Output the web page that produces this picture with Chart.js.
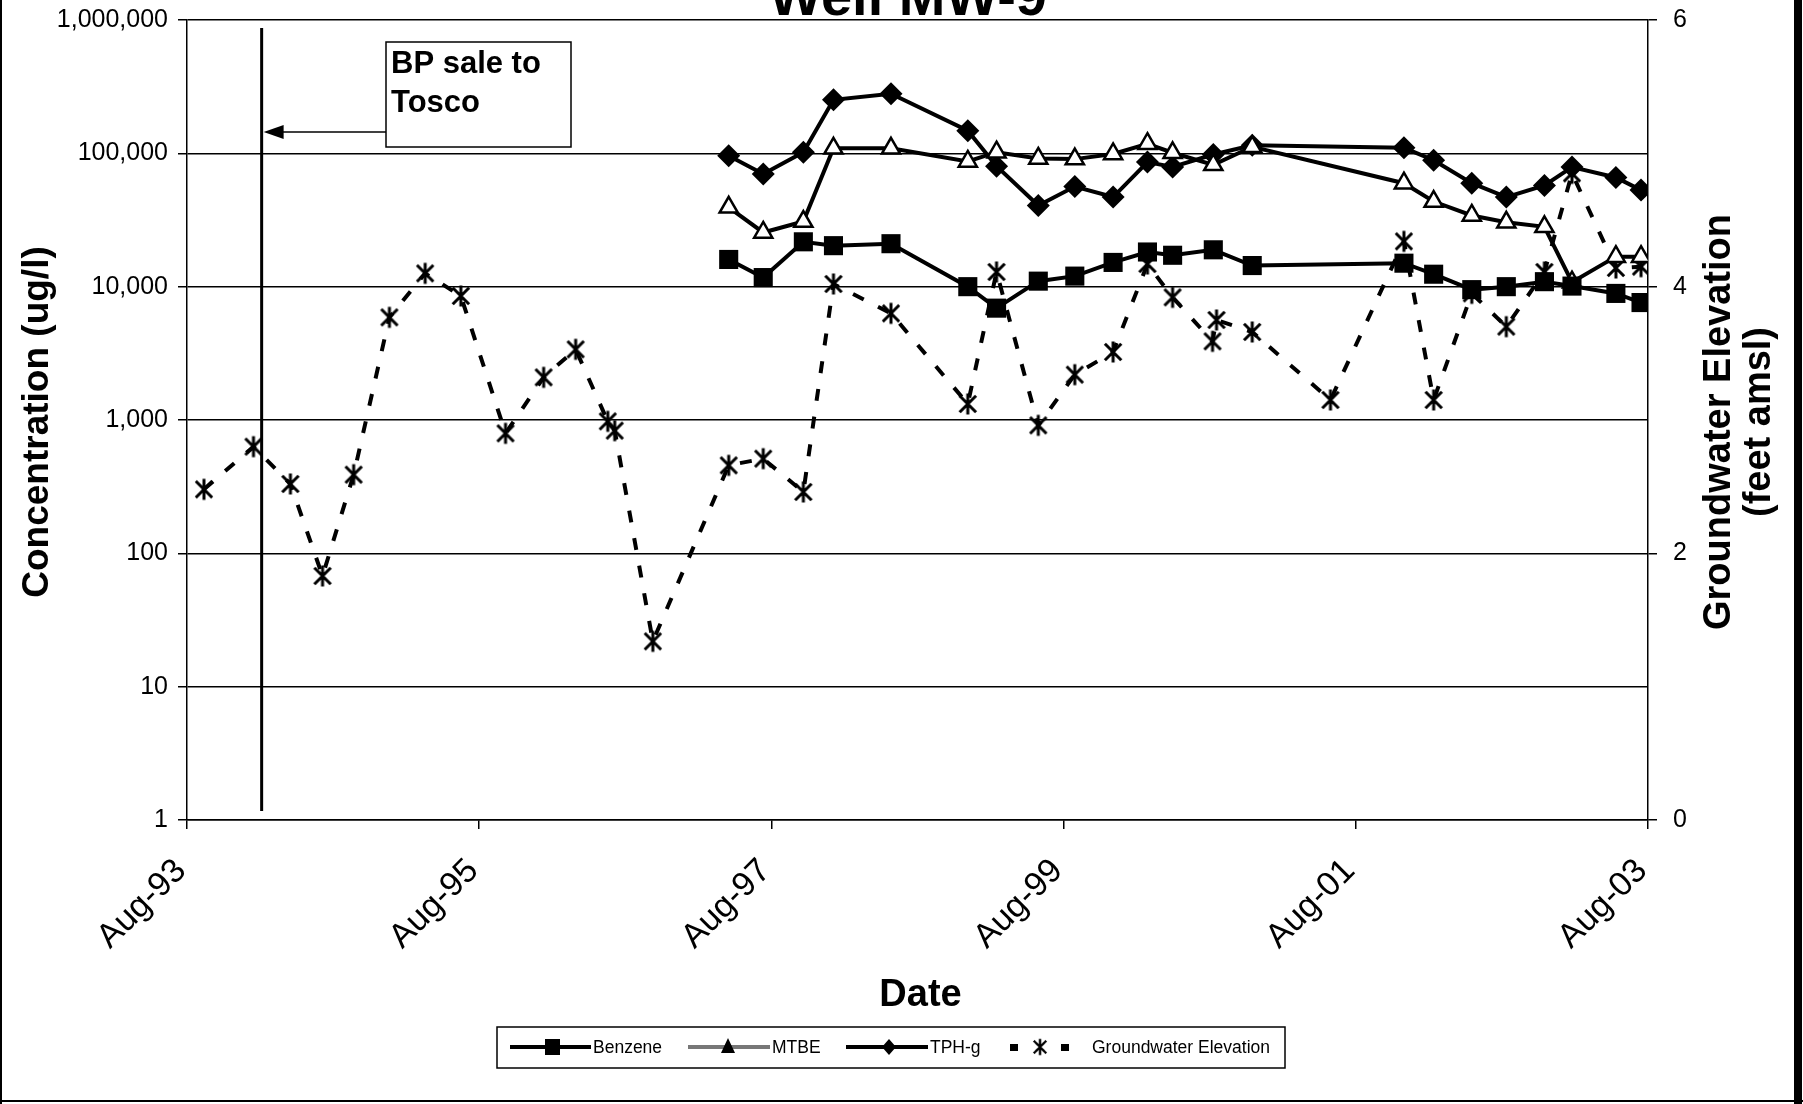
<!DOCTYPE html>
<html><head><meta charset="utf-8">
<script src="https://cdn.jsdelivr.net/npm/chart.js@4.4.1/dist/chart.umd.min.js"></script>
<style>html,body{margin:0;padding:0;background:#fff;} canvas{display:block;}</style>
</head><body>
<canvas id="c" width="1803" height="1104"></canvas>
<script>
// ---------------- data ----------------
const concDates = ['1997-04-16','1997-07-11','1997-10-20','1998-01-04','1998-05-26','1998-12-05','1999-02-16','1999-05-29','1999-08-29','1999-12-03','2000-02-28','2000-04-30','2000-08-10','2000-11-16','2001-11-30','2002-02-13','2002-05-17','2002-08-12','2002-11-16','2003-01-24','2003-05-12','2003-07-14'];
const benzene = [16000,11700,21700,20300,21000,10000,6900,11000,12000,15200,18200,17200,18900,14400,15000,12400,9500,10000,10900,10100,8900,7600];
const mtbe    = [39400,25500,30800,109000,109000,87000,102000,91500,90500,99000,118000,101000,82000,112000,59700,43500,34200,30400,28100,10800,16800,16800];
const tphg    = [96000,70000,102000,252000,280000,148000,80000,40600,56300,47000,86000,79000,98000,115000,110000,88700,59700,47000,57400,78900,65900,53000];
const gwDates = ['1993-09-13','1994-01-15','1994-04-16','1994-07-05','1994-09-22','1994-12-20','1995-03-18','1995-06-16','1995-10-06','1996-01-10','1996-03-29','1996-06-18','1996-07-05','1996-10-09','1997-04-16','1997-07-11','1997-10-20','1998-01-04','1998-05-26','1998-12-05','1999-02-16','1999-05-29','1999-08-29','1999-12-03','2000-02-28','2000-04-30','2000-08-08','2000-08-18','2000-11-16','2001-05-29','2001-11-30','2002-02-13','2002-05-17','2002-08-12','2002-11-16','2003-01-24','2003-05-12','2003-07-14'];
const gwElev  = [2.48,2.80,2.52,1.83,2.59,3.77,4.10,3.93,2.90,3.32,3.53,2.99,2.92,1.34,2.66,2.71,2.46,4.02,3.80,3.12,4.11,2.96,3.34,3.51,4.17,3.92,3.59,3.75,3.66,3.15,4.34,3.15,3.95,3.70,4.11,4.85,4.14,4.15];
const xTickDates  = ['1993-08-01','1995-08-01','1997-08-01','1999-08-01','2001-08-01','2003-08-01'];
const xTickLabels = ['Aug-93','Aug-95','Aug-97','Aug-99','Aug-01','Aug-03'];
const yTickValues = [1,10,100,1000,10000,100000,1000000];
const y2TickValues = [0,2,4,6];
const saleDate = '1994-02-05';
const seriesNames = ['Benzene','MTBE','TPH-g','Groundwater Elevation'];

// ---------------- helpers ----------------
function toYear(s){const p=s.split('-').map(Number);return p[0]+(p[1]-1)/12+(p[2]-1)/365;}
function fmt(v){return String(v).replace(/\B(?=(\d{3})+(?!\d))/g, ',');}
function makeStar(size, lw){
  const c=document.createElement('canvas'); c.width=size; c.height=size;
  const g=c.getContext('2d'); const h=size/2; const a=h-lw/2-1;
  g.strokeStyle='#000'; g.lineWidth=lw; g.lineCap='butt';
  g.beginPath();
  g.moveTo(h,h-a); g.lineTo(h,h+a);
  const d=a*0.78;
  g.moveTo(h-d,h-d); g.lineTo(h+d,h+d);
  g.moveTo(h+d,h-d); g.lineTo(h-d,h+d);
  g.stroke(); return c;
}
function noPad(s){s.paddingTop=0;s.paddingBottom=0;s.paddingLeft=0;s.paddingRight=0;}
const starImg = makeStar(26, 3);
const FONT = "'Liberation Sans', Arial, Helvetica, sans-serif";
Chart.defaults.font.family = FONT;
Chart.defaults.color = '#000';

const decor = {
  id:'decor',
  afterDraw(chart){
    const ctx=chart.ctx, ca=chart.chartArea, xs=chart.scales.x;
    ctx.save();
    // title (clipped at top)
    ctx.fillStyle='#000'; ctx.textAlign='center'; ctx.textBaseline='alphabetic';
    ctx.font='bold 56px '+FONT; ctx.fillText('Well MW-9', 908, 15);
    // axis titles
    ctx.font='bold 37px '+FONT; ctx.textBaseline='middle';
    const cy=(ca.top+ca.bottom)/2;
    ctx.save(); ctx.translate(38, cy+2); ctx.rotate(-Math.PI/2); ctx.fillText('Concentration (ug/l)',0,0); ctx.restore();
    ctx.font='bold 38px '+FONT;
    ctx.save(); ctx.translate(1720, cy+2); ctx.rotate(-Math.PI/2); ctx.fillText('Groundwater Elevation',0,0); ctx.restore();
    ctx.save(); ctx.translate(1760, cy+2); ctx.rotate(-Math.PI/2); ctx.fillText('(feet amsl)',0,0); ctx.restore();
    ctx.fillText('Date', (ca.left+ca.right)/2+3, 996);
    // sale line
    const sx = xs.getPixelForValue(toYear(saleDate));
    ctx.strokeStyle='#000'; ctx.lineWidth=3;
    ctx.beginPath(); ctx.moveTo(sx, 28); ctx.lineTo(sx, 811); ctx.stroke();
    // arrow
    ctx.lineWidth=1.5;
    ctx.beginPath(); ctx.moveTo(sx+20, 132); ctx.lineTo(386, 132); ctx.stroke();
    ctx.beginPath(); ctx.moveTo(sx+2, 132); ctx.lineTo(sx+22, 125); ctx.lineTo(sx+22, 139); ctx.closePath(); ctx.fill();
    // annotation box
    ctx.fillStyle='#fff'; ctx.fillRect(386, 42, 185, 105);
    ctx.strokeStyle='#000'; ctx.lineWidth=1.5; ctx.strokeRect(386, 42, 185, 105);
    ctx.fillStyle='#000'; ctx.textAlign='left'; ctx.font='bold 31px '+FONT;
    ctx.fillText('BP sale to', 391, 64); ctx.fillText('Tosco', 391, 103);
    // legend
    const ly=1047;
    ctx.fillStyle='#fff'; ctx.fillRect(497,1027,788,41);
    ctx.lineWidth=1.5; ctx.strokeRect(497,1027,788,41);
    ctx.font='17.5px '+FONT; ctx.textBaseline='middle'; ctx.fillStyle='#000';
    // benzene
    ctx.strokeStyle='#000'; ctx.lineWidth=4;
    ctx.beginPath(); ctx.moveTo(510,ly); ctx.lineTo(591,ly); ctx.stroke();
    ctx.fillRect(545,ly-8,15,16);
    ctx.fillText(seriesNames[0], 593, ly+1);
    // mtbe
    ctx.strokeStyle='#777'; ctx.lineWidth=4;
    ctx.beginPath(); ctx.moveTo(688,ly); ctx.lineTo(770,ly); ctx.stroke();
    ctx.beginPath(); ctx.moveTo(728,ly-9); ctx.lineTo(735,ly+6); ctx.lineTo(721,ly+6); ctx.closePath(); ctx.fill();
    ctx.fillText(seriesNames[1], 772, ly+1);
    // tph-g
    ctx.strokeStyle='#000';
    ctx.beginPath(); ctx.moveTo(846,ly); ctx.lineTo(928,ly); ctx.stroke();
    ctx.beginPath(); ctx.moveTo(889,ly-8); ctx.lineTo(896,ly); ctx.lineTo(889,ly+8); ctx.lineTo(882,ly); ctx.closePath(); ctx.fill();
    ctx.fillText(seriesNames[2], 930, ly+1);
    // groundwater
    ctx.fillRect(1010,ly-3,8,7); ctx.fillRect(1061,ly-3,8,7);
    ctx.drawImage(starImg, 1040-10, ly-10, 20, 20);
    ctx.fillText(seriesNames[3], 1092, ly+1);
    // frame
    ctx.fillStyle='#000';
    ctx.fillRect(0,0,2,1104);
    ctx.fillRect(0,1100,1803,2);
    ctx.fillRect(1794,0,8,1104);
    ctx.restore();
  }
};

const pts = (dates, vals) => dates.map((d,i)=>({x:toYear(d), y:vals[i]}));

new Chart(document.getElementById('c'), {
  type:'line',
  data:{ datasets:[
    {label:seriesNames[0], data:pts(concDates,benzene), yAxisID:'y', borderColor:'#000', backgroundColor:'#000', borderWidth:4,
     pointStyle:'rect', pointRadius:13.5, pointBackgroundColor:'#000', pointBorderColor:'#000', pointBorderWidth:0, tension:0},
    {label:seriesNames[1], data:pts(concDates,mtbe), yAxisID:'y', borderColor:'#000', backgroundColor:'#fff', borderWidth:4,
     pointStyle:'triangle', pointRadius:10.5, pointBackgroundColor:'#fff', pointBorderColor:'#000', pointBorderWidth:2.5, tension:0},
    {label:seriesNames[2], data:pts(concDates,tphg), yAxisID:'y', borderColor:'#000', backgroundColor:'#000', borderWidth:4,
     pointStyle:'rectRot', pointRadius:11.5, pointBackgroundColor:'#000', pointBorderColor:'#000', pointBorderWidth:0, tension:0},
    {label:seriesNames[3], data:pts(gwDates,gwElev), yAxisID:'y2', borderColor:'#000', backgroundColor:'#000', borderWidth:4,
     borderDash:[12,16], borderCapStyle:'butt', pointStyle:starImg, pointRadius:13, tension:0}
  ]},
  options:{
    animation:false, responsive:false, maintainAspectRatio:false,
    layout:{padding:{top:20,left:0,right:0,bottom:0}},
    plugins:{legend:{display:false}, tooltip:{enabled:false}, title:{display:false}},
    scales:{
      x:{type:'linear', position:'bottom', min:toYear(xTickDates[0]), max:toYear(xTickDates[xTickDates.length-1]),
         afterBuildTicks:s=>{s.ticks=xTickDates.map(d=>({value:toYear(d)}));},
         afterFit:s=>{s.height=284; noPad(s);},
         ticks:{callback:(v,i)=>xTickLabels[i], maxRotation:45, minRotation:45, autoSkip:false, font:{size:34}, padding:22, labelOffset:-6, color:'#000'},
         grid:{drawOnChartArea:false, drawTicks:true, tickLength:9, color:'#000', lineWidth:1.5},
         border:{color:'#000', width:1.5}},
      y:{type:'logarithmic', position:'left', min:1, max:1000000,
         afterBuildTicks:s=>{s.ticks=yTickValues.map(v=>({value:v}));},
         afterFit:s=>{s.width=187; noPad(s);},
         ticks:{callback:v=>fmt(v), font:{size:25}, padding:10, color:'#000', autoSkip:false},
         grid:{color:'#000', lineWidth:1.5, tickLength:9, drawTicks:true},
         border:{color:'#000', width:1.5}},
      y2:{type:'linear', position:'right', min:0, max:6,
         afterBuildTicks:s=>{s.ticks=y2TickValues.map(v=>({value:v}));},
         afterFit:s=>{s.width=155; noPad(s);},
         ticks:{font:{size:25}, padding:16, color:'#000'},
         grid:{drawOnChartArea:false, drawTicks:true, tickLength:9, color:'#000', lineWidth:1.5},
         border:{color:'#000', width:1.5}}
    }
  },
  plugins:[decor]
});
</script>
</body></html>
